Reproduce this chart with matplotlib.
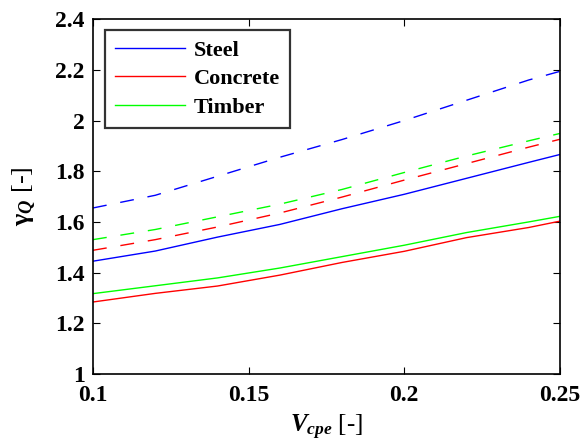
import matplotlib
matplotlib.use("Agg")
import matplotlib.pyplot as plt

plt.rcParams['font.family'] = ['Liberation Serif', 'DejaVu Serif']
plt.rcParams['font.weight'] = 'bold'
plt.rcParams['mathtext.fontset'] = 'custom'
plt.rcParams['mathtext.rm'] = 'Liberation Serif'
plt.rcParams['mathtext.it'] = 'Liberation Serif:italic:bold'
plt.rcParams['mathtext.bf'] = 'Liberation Serif:bold'

v_cpe = [0.10, 0.12, 0.14, 0.16, 0.18, 0.20, 0.22, 0.24, 0.25]

steel_solid = [1.445, 1.485, 1.540, 1.590, 1.652, 1.709, 1.772, 1.835, 1.866]
concrete_solid = [1.284, 1.318, 1.347, 1.390, 1.440, 1.484, 1.538, 1.578, 1.603]
timber_solid = [1.317, 1.348, 1.379, 1.418, 1.463, 1.508, 1.558, 1.600, 1.622]

steel_dash = [1.655, 1.705, 1.780, 1.855, 1.925, 2.000, 2.080, 2.160, 2.194]
concrete_dash = [1.488, 1.530, 1.580, 1.635, 1.698, 1.765, 1.830, 1.895, 1.926]
timber_dash = [1.530, 1.570, 1.620, 1.670, 1.728, 1.795, 1.860, 1.920, 1.949]

labels = ['Steel', 'Concrete', 'Timber']
colors = ['#0000ff', '#ff0000', '#00ff00']

fig = plt.figure(figsize=(5.83, 4.45), dpi=100)
ax = fig.add_axes([0.1595, 0.1596, 0.801, 0.7974])

for ys, c, lab in zip([steel_solid, concrete_solid, timber_solid], colors, labels):
    ax.plot(v_cpe, ys, color=c, lw=1.0, label=lab)
for ys, c in zip([steel_dash, concrete_dash, timber_dash], colors):
    ax.plot(v_cpe, ys, color=c, lw=1.0, dashes=(10, 10))

ax.set_xlim(0.1, 0.25)
ax.set_ylim(1.0, 2.4)
ax.set_xticks([0.1, 0.15, 0.2, 0.25])
ax.set_xticklabels(['0.1', '0.15', '0.2', '0.25'])
ax.set_yticks([1, 1.2, 1.4, 1.6, 1.8, 2, 2.2, 2.4])
ax.set_yticklabels(['1', '1.2', '1.4', '1.6', '1.8', '2', '2.2', '2.4'])
ax.tick_params(direction='in', top=True, right=True, length=5, width=0.8,
               labelsize=17)
ax.tick_params(axis='x', pad=8)
ax.tick_params(axis='y', pad=6)
for lab in ax.get_xticklabels() + ax.get_yticklabels():
    lab.set_fontweight('bold')
for s in ax.spines.values():
    s.set_linewidth(1.2)

ax.set_xlabel(r'$V_{cpe}$ [-]', fontsize=18, labelpad=5)
ax.set_ylabel(r'$\mathrm{\gamma}_{Q}$ [-]', fontsize=19, labelpad=12)

leg = ax.legend(loc='upper left', bbox_to_anchor=(0.0257, 0.969), fontsize=16,
                frameon=True, fancybox=False, edgecolor='black',
                handlelength=3.15, borderpad=0.45, labelspacing=0.36,
                handletextpad=0.4, borderaxespad=0.0)
leg.get_frame().set_linewidth(1.6)
for t in leg.get_texts():
    t.set_fontweight('bold')

fig.savefig('out.png', dpi=100)
